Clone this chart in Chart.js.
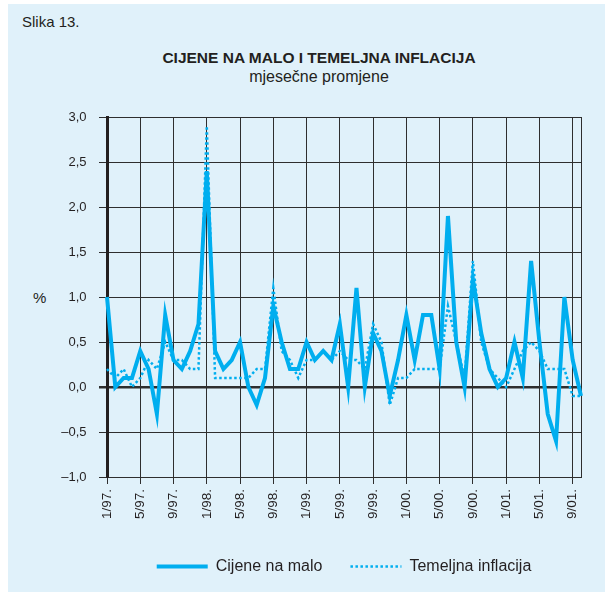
<!DOCTYPE html>
<html>
<head>
<meta charset="utf-8">
<script src="https://cdn.jsdelivr.net/npm/chart.js@4.4.1/dist/chart.umd.min.js"></script>
<style>
html,body{margin:0;padding:0;background:#ffffff;}
#wrap{position:relative;width:614px;height:599px;overflow:hidden;}
#panel{position:absolute;left:8px;top:4px;width:597px;height:588px;background:#e0f1fa;}
.t{position:absolute;font-family:"Liberation Sans",Arial,sans-serif;color:#231f20;white-space:nowrap;}
#slika{left:22px;top:13px;font-size:15px;}
#title{left:0;width:638px;text-align:center;top:49px;font-size:15.5px;font-weight:bold;}
#sub{left:0;width:638px;text-align:center;top:68px;font-size:16px;}
#pct{left:33px;top:289px;font-size:15px;}
#c{position:absolute;left:0;top:0;}
</style>
</head>
<body>
<div id="wrap">
  <div id="panel"></div>
  <div class="t" id="slika">Slika 13.</div>
  <div class="t" id="title">CIJENE NA MALO I TEMELJNA INFLACIJA</div>
  <div class="t" id="sub">mjesečne promjene</div>
  <div class="t" id="pct">%</div>
  <canvas id="c" width="614" height="599"></canvas>
</div>
<script>
// Months (categories), 1/97. .. 10/01.
const months = [
  '1/97.','2/97.','3/97.','4/97.','5/97.','6/97.','7/97.','8/97.','9/97.','10/97.','11/97.','12/97.',
  '1/98.','2/98.','3/98.','4/98.','5/98.','6/98.','7/98.','8/98.','9/98.','10/98.','11/98.','12/98.',
  '1/99.','2/99.','3/99.','4/99.','5/99.','6/99.','7/99.','8/99.','9/99.','10/99.','11/99.','12/99.',
  '1/00.','2/00.','3/00.','4/00.','5/00.','6/00.','7/00.','8/00.','9/00.','10/00.','11/00.','12/00.',
  '1/01.','2/01.','3/01.','4/01.','5/01.','6/01.','7/01.','8/01.','9/01.','10/01.'
];
// Tick labels shown on the x axis
const tickLabels = ['1/97.','5/97.','9/97.','1/98.','5/98.','9/98.','1/99.','5/99.','9/99.','1/00.','5/00.','9/00.','1/01.','5/01.','9/01.'];

// Cijene na malo (solid)
const cijeneNaMalo = [
  1.0, 0.0, 0.1, 0.1, 0.4, 0.2, -0.3, 0.8, 0.3, 0.2, 0.4, 0.7,
  2.4, 0.4, 0.2, 0.3, 0.5, 0.0, -0.2, 0.1, 0.9, 0.5, 0.2, 0.2,
  0.5, 0.3, 0.4, 0.3, 0.7, 0.0, 1.1, 0.0, 0.6, 0.4, -0.1, 0.3,
  0.8, 0.3, 0.8, 0.8, 0.2, 1.9, 0.5, 0.0, 1.2, 0.6, 0.2, 0.0,
  0.1, 0.5, 0.1, 1.4, 0.5, -0.3, -0.6, 1.0, 0.3, -0.1
];
// Temeljna inflacija (dotted)
const temeljnaInflacija = [
  0.2, 0.1, 0.2, 0.0, 0.1, 0.3, 0.2, 0.5, 0.3, 0.3, 0.2, 0.2,
  2.9, 0.1, 0.1, 0.1, 0.1, 0.1, 0.2, 0.2, 1.1, 0.4, 0.3, 0.1,
  0.3, 0.3, 0.4, 0.3, 0.4, 0.3, 0.3, 0.2, 0.7, 0.5, -0.2, 0.1,
  0.1, 0.2, 0.2, 0.2, 0.2, 0.9, 0.5, 0.1, 1.4, 0.5, 0.2, 0.1,
  0.0, 0.2, 0.4, 0.5, 0.4, 0.2, 0.2, 0.2, -0.1, -0.1
];

const LINE = '#00aeef';
const INK = '#231f20';
const GRID = '#2e2e2e';
const FONT = '"Liberation Sans", Arial, sans-serif';

new Chart(document.getElementById('c'), {
  type: 'line',
  data: {
    labels: months,
    datasets: [
      {
        label: 'Cijene na malo',
        data: cijeneNaMalo,
        borderColor: LINE,
        backgroundColor: LINE,
        borderWidth: 4,
        pointRadius: 0,
        tension: 0,
        fill: false
      },
      {
        label: 'Temeljna inflacija',
        data: temeljnaInflacija,
        borderColor: LINE,
        backgroundColor: LINE,
        borderWidth: 2.5,
        borderDash: [2.5, 2.5],
        pointRadius: 0,
        tension: 0,
        fill: false
      }
    ]
  },
  options: {
    responsive: false,
    devicePixelRatio: 1,
    animation: false,
    events: [],
    layout: { padding: { left: 0, top: 117, right: 33, bottom: 14.5 } },
    plugins: {
      title: { display: false },
      tooltip: { enabled: false },
      legend: {
        display: true,
        position: 'bottom',
        fullSize: false,
        labels: {
          usePointStyle: true,
          pointStyle: 'line',
          pointStyleWidth: 51,
          padding: 28,
          color: INK,
          font: { family: FONT, size: 16 },
          generateLabels: (chart) => chart.data.datasets.map((ds, i) => ({
            text: ds.label,
            fillStyle: ds.borderColor,
            strokeStyle: ds.borderColor,
            lineWidth: ds.borderWidth,
            lineDash: ds.borderDash || [],
            lineCap: 'butt',
            pointStyle: 'line',
            fontColor: INK,
            hidden: false,
            datasetIndex: i
          }))
        }
      }
    },
    scales: {
      x: {
        type: 'category',
        offset: false,
        afterFit: (s) => { s.height = 53.5; },
        border: { display: true, color: GRID, width: 1 },
        grid: {
          display: true,
          drawOnChartArea: true,
          drawTicks: true,
          tickLength: 7,
          offset: false,
          color: (ctx) => {
            const lab = months[ctx.index];
            if (tickLabels.includes(lab) || ctx.index === months.length - 1) return GRID;
            return 'rgba(0,0,0,0)';
          },
          tickColor: (ctx) => tickLabels.includes(months[ctx.index]) ? GRID : 'rgba(0,0,0,0)',
          lineWidth: 1
        },
        ticks: {
          autoSkip: false,
          maxRotation: 90,
          minRotation: 90,
          padding: 5,
          color: INK,
          font: { family: FONT, size: 13.5 },
          callback: function(value, index) {
            const lab = months[index];
            return tickLabels.includes(lab) ? lab : '';
          }
        }
      },
      y: {
        min: -1,
        max: 3,
        afterFit: (s) => { s.width = 107; },
        border: { display: true, color: INK, width: 3 },
        grid: {
          color: GRID,
          tickLength: 8,
          lineWidth: (ctx) => (ctx.tick && ctx.tick.value === 0) ? 2.5 : 1
        },
        ticks: {
          stepSize: 0.5,
          padding: 12.5,
          color: INK,
          font: { family: FONT, size: 13 },
          callback: (v) => {
            const s = Math.abs(v).toFixed(1).replace('.', ',');
            return v < 0 ? '\u2013' + s : s;
          }
        }
      }
    }
  }
});
</script>
</body>
</html>
